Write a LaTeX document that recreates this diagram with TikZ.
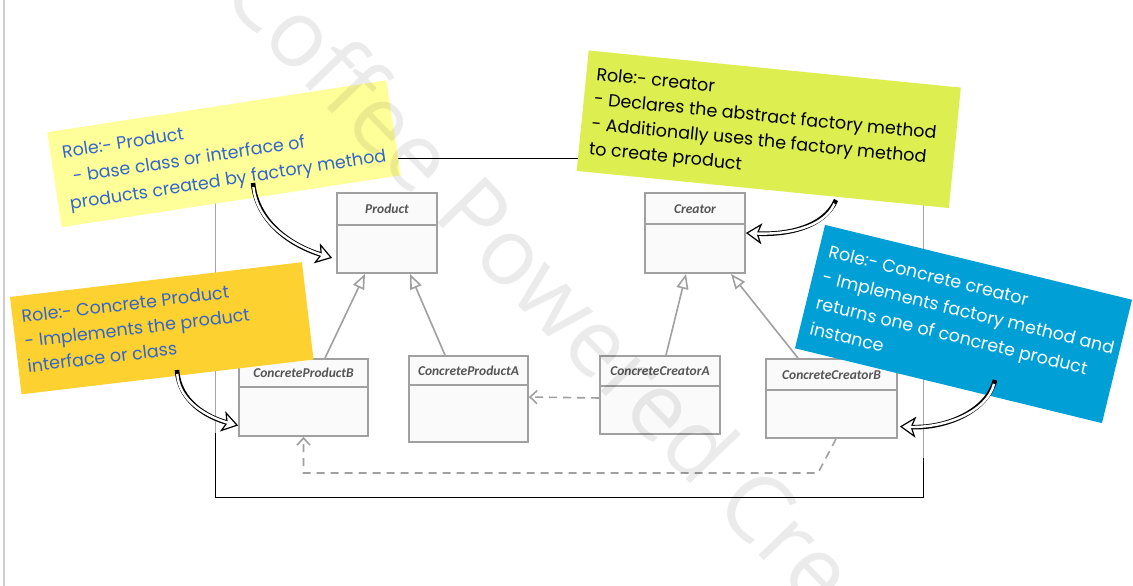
\documentclass[tikz,border=0pt]{standalone}
\usepackage{fontspec}
\usetikzlibrary{arrows.meta}
\newfontfamily\handfont{Poppins}
\newfontfamily\classfont{Carlito}
\newfontfamily\wmfont{Open Sans}
\definecolor{noteyellow}{HTML}{FFFF99}
\definecolor{notegreen}{HTML}{DCEE50}
\definecolor{noteorange}{HTML}{FDD12F}
\definecolor{noteblue}{HTML}{00A0D7}
\definecolor{handblue}{HTML}{3366CC}
\definecolor{classgray}{HTML}{A0A0A0}
\definecolor{labelgray}{HTML}{555555}
\begin{document}
\begin{tikzpicture}[x=1pt,y=-1pt,
  classbox/.style={draw=classgray, line width=1.8pt, fill=black!2, inner sep=0pt},
  classsep/.style={draw=classgray, line width=1.5pt},
  classlabel/.style={font=\classfont\bfseries\itshape\fontsize{13.5}{15}\selectfont, text=labelgray, inner sep=0pt},
  inherit/.style={draw=classgray, line width=1.6pt, -{Triangle[open, fill=white, length=15pt, width=12pt]}},
  dep/.style={draw=classgray, line width=1.6pt, dash pattern=on 8pt off 6pt, -{Straight Barb[length=7pt, width=13pt]}},
  notebox/.style={inner sep=0pt, draw=none},
  notetext/.style={anchor=north west, align=left, inner sep=0pt, font=\handfont\fontsize{17.5}{#1}\selectfont},
  notetext/.default=25,
  hollowout/.style={draw=black, line width=4.6pt, -{Stealth[open, fill=white, length=16pt, width=21pt, inset=4pt, line width=1.2pt]}},
  hollowin/.style={draw=white, line width=2.4pt, shorten >=8pt, shorten <=4pt},
  frameline/.style={line width=0.9pt}
]
\useasboundingbox (0,0) rectangle (1133,586);
\fill[white] (0,0) rectangle (1133,586);
\draw[black!20, line width=1.5pt] (4,0) -- (4,586);

% frame
\coordinate (ftl) at (215,158);
\coordinate (ftr) at (923,158);
\coordinate (fbr) at (923,497);
\coordinate (fbl) at (215,497);
\coordinate (frm) at (923,458);
\coordinate (flm) at (215,433);
\draw[frameline] (ftl) -- (ftr);
\draw[frameline, black!35] (ftr) -- (frm);
\draw[frameline] (frm) -- (fbr) -- (fbl) -- (flm);
\draw[frameline, black!35] (flm) -- (ftl);

% classes
\node[classbox, minimum width=100pt, minimum height=80pt] (product) at (387,233) {};
\draw[classsep] ([yshift=-33pt]product.north west) -- ([yshift=-33pt]product.north east);
\node[classlabel] (productlbl) at ([yshift=-17pt]product.north) {Product};

\node[classbox, minimum width=100pt, minimum height=80pt] (creator) at (695,233) {};
\draw[classsep] ([yshift=-32pt]creator.north west) -- ([yshift=-32pt]creator.north east);
\node[classlabel] (creatorlbl) at ([yshift=-17pt]creator.north) {Creator};

\node[classbox, minimum width=129pt, minimum height=77pt] (cpb) at (303.5,397.5) {};
\draw[classsep] ([yshift=-29pt]cpb.north west) -- ([yshift=-29pt]cpb.north east);
\node[classlabel] (cpblbl) at ([yshift=-15pt]cpb.north) {ConcreteProductB};

\node[classbox, minimum width=119pt, minimum height=86pt] (cpa) at (468.5,399) {};
\draw[classsep] ([yshift=-30pt]cpa.north west) -- ([yshift=-30pt]cpa.north east);
\node[classlabel] (cpalbl) at ([yshift=-16pt]cpa.north) {ConcreteProductA};

\node[classbox, minimum width=120pt, minimum height=78pt] (cca) at (660,395) {};
\draw[classsep] ([yshift=-31pt]cca.north west) -- ([yshift=-31pt]cca.north east);
\node[classlabel] (ccalbl) at ([yshift=-16pt]cca.north) {ConcreteCreatorA};

\node[classbox, minimum width=131pt, minimum height=79pt] (ccb) at (831.5,398.5) {};
\draw[classsep] ([yshift=-32pt]ccb.north west) -- ([yshift=-32pt]ccb.north east);
\node[classlabel] (ccblbl) at ([yshift=-17pt]ccb.north) {ConcreteCreatorB};

% inheritance
\draw[inherit] ([xshift=21.5pt]cpb.north) -- ([xshift=-22pt]product.south);
\draw[inherit] ([xshift=-23.5pt]cpa.north) -- ([xshift=23pt]product.south);
\draw[inherit] ([xshift=6pt]cca.north) -- ([xshift=-9pt]creator.south);
\draw[inherit] ([xshift=-33.5pt]ccb.north) -- ([xshift=36pt]creator.south);

% dependencies
\draw[dep] ([yshift=-3pt]cca.west) -- ([yshift=2pt]cpa.east);
\coordinate (d1) at (818,473);
\coordinate (d2) at (303.5,473);
\draw[dep] ([xshift=4.5pt]ccb.south) -- (d1) -- (d2) -- (cpb.south);

% notes
\begin{scope}[shift={(224,153.75)}, rotate=8.7, transform shape]
 \node[notebox, fill=noteyellow, minimum width=343pt, minimum height=96pt] (yellownote) at (0,0) {};
 \node[notetext=26, text=handblue] (yellowtext) at (-160,-33) {Role:- Product\\\hspace*{7pt}- base class or interface of\\products created by factory method};
\end{scope}
\begin{scope}[shift={(768.75,129.25)}, rotate=-5.7, transform shape]
 \node[notebox, fill=notegreen, minimum width=374pt, minimum height=121pt] (greennote) at (0,0) {};
 \node[notetext=25, text=black] (greentext) at (-177,-45) {Role:- creator\\- Declares the abstract factory method\\- Additionally uses the factory method\\to create product};
\end{scope}
\begin{scope}[shift={(161.75,328.25)}, rotate=6.8, transform shape]
 \node[notebox, fill=noteorange, minimum width=294pt, minimum height=98pt] (orangenote) at (0,0) {};
 \node[notetext=25, text=handblue] (orangetext) at (-138,-35) {Role:- Concrete Product\\- Implements the product\\interface or class};
\end{scope}
\begin{scope}[shift={(963.5,324)}, rotate=-13.7, transform shape]
 \node[notebox, fill=noteblue, minimum width=316pt, minimum height=127pt] (bluenote) at (0,0) {};
 \node[notetext=26.5, text=white] (bluetext) at (-148,-46) {Role:- Concrete creator\\- Implements factory method and\\returns one of concrete product\\instance};
\end{scope}

% hollow arrows
\coordinate (ya) at (253,183);
\coordinate (ga) at (836,200);
\coordinate (oa) at (177,370);
\coordinate (ba) at (995,380);
\draw[hollowout] (ya) .. controls +(4,40) and +(-40,-12) .. ([xshift=-4pt,yshift=16pt]product.south west);
\draw[hollowin] (ya) .. controls +(4,40) and +(-40,-12) .. ([xshift=-4pt,yshift=16pt]product.south west);
\draw[hollowout] (ga) .. controls +(-12,28) and +(40,2) .. (creator.east);
\draw[hollowin] (ga) .. controls +(-12,28) and +(40,2) .. (creator.east);
\draw[hollowout] (oa) .. controls +(2,32) and +(-30,-8) .. ([yshift=-28pt]cpb.west);
\draw[hollowin] (oa) .. controls +(2,32) and +(-30,-8) .. ([yshift=-28pt]cpb.west);
\draw[hollowout] (ba) .. controls +(-8,32) and +(45,2) .. ([xshift=2pt,yshift=-28pt]ccb.east);
\draw[hollowin] (ba) .. controls +(-8,32) and +(45,2) .. ([xshift=2pt,yshift=-28pt]ccb.east);

% watermark
\node[anchor=base west, rotate=-46, inner sep=0pt, font=\wmfont\fontsize{93}{93}\selectfont, text=black, text opacity=0.08] (watermark) at (219,-4) {Coffee Powered Cre};
\end{tikzpicture}
\end{document}
